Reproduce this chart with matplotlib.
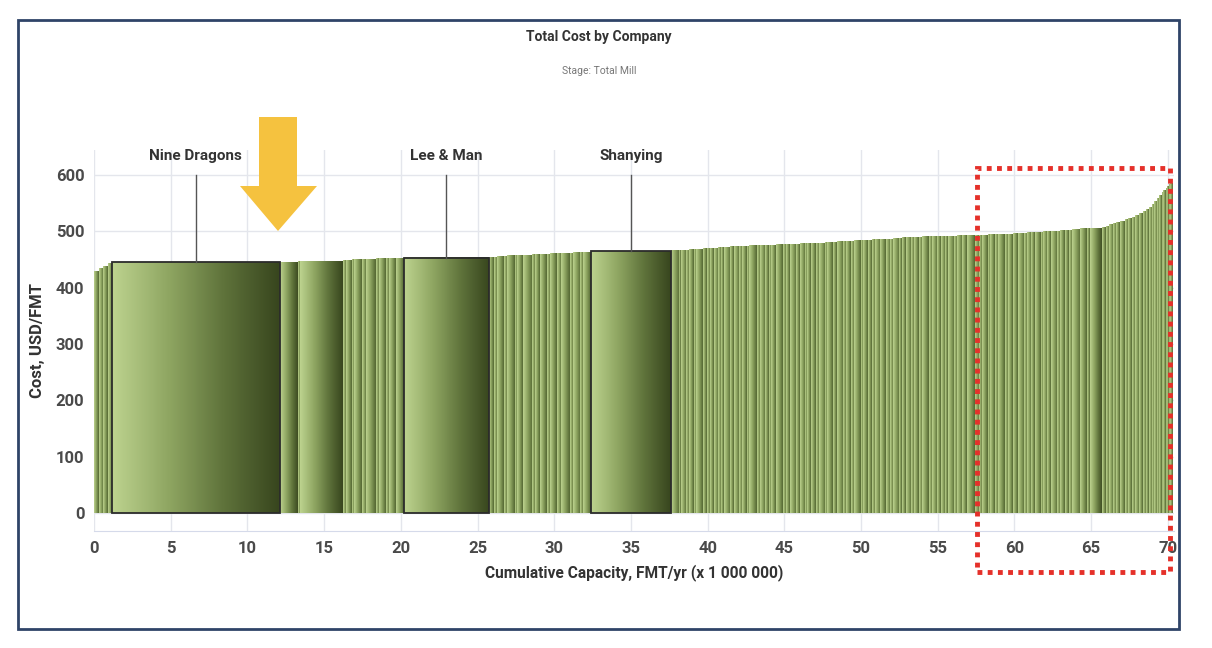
import numpy as np
import matplotlib
matplotlib.use("Agg")
import matplotlib.pyplot as plt
from matplotlib.colors import LinearSegmentedColormap
from matplotlib.patches import Rectangle, Polygon

plt.rcParams["font.family"] = ["Roboto", "DejaVu Sans"]

# capacity (million FMT/yr) and cost (USD/FMT) of each mill, in merit order
w_start = [0.3, 0.3, 0.3, 0.27]
c_start = [428, 433, 438, 442]
w_nine, c_nine = 10.93, 445
w_b = [1.2, 0.15, 2.8, 0.2, 0.35, 0.15, 0.5, 0.3, 0.6, 0.25, 0.45, 0.2, 0.45, 0.5]
c_b = [445, 446, 447, 448, 448, 449, 449, 450, 450, 451, 451, 452, 452, 452]
w_lee, c_lee = 5.55, 453
w_c = [0.3, 0.2, 0.45, 0.25, 0.5, 0.15, 0.35, 0.6, 0.2, 0.3, 0.45, 0.25, 0.4, 0.3,
       0.55, 0.2, 0.5, 0.2, 0.5]
c_c = [454, 454, 455, 455, 456, 456, 457, 457, 458, 458, 459, 459, 460, 460,
       461, 461, 462, 462, 463]
w_shan, c_shan = 5.2, 464
w_d = [0.55, 0.1, 0.35, 0.2, 0.3, 0.15, 0.45, 0.25, 0.2, 0.25,
       0.3, 0.2, 0.15, 0.4, 0.25, 0.35, 0.2, 0.3, 0.15, 0.5,
       0.2, 0.35, 0.25, 0.15, 0.3, 0.45, 0.2, 0.25, 0.4, 0.25,
       0.35, 0.15, 0.25, 0.3, 0.2, 0.4, 0.15, 0.35, 0.25, 0.4,
       0.25, 0.3, 0.2, 0.45, 0.15, 0.3, 0.25, 0.2, 0.35, 0.35,
       0.3, 0.2, 0.4, 0.15, 0.25, 0.35, 0.2, 0.3, 0.25, 0.4,
       0.2, 0.35, 0.25, 0.3, 0.15, 0.4, 0.2, 0.35, 0.3, 0.5]
c_d = [465, 465, 466, 466, 467, 467, 468, 469, 469, 470,
       470, 471, 471, 471, 472, 472, 473, 473, 473, 474,
       474, 474, 475, 475, 475, 476, 476, 476, 477, 477,
       478, 478, 478, 479, 479, 479, 480, 480, 480, 481,
       481, 482, 482, 483, 483, 484, 484, 485, 485, 486,
       486, 486, 487, 487, 488, 488, 488, 489, 489, 490,
       490, 490, 490, 491, 491, 491, 491, 492, 492, 492]
w_e = [0.3, 0.2, 0.35, 0.15, 0.3, 0.25, 0.45, 0.2, 0.3, 0.3,
       0.4, 0.2, 0.3, 0.25, 0.35, 0.15, 0.3, 0.2, 0.4, 0.25,
       0.3, 0.25, 0.2, 0.55, 0.45, 0.15, 0.8]
c_e = [493, 493, 493, 494, 494, 494, 495, 495, 495, 496,
       496, 496, 497, 497, 498, 498, 499, 499, 500, 500,
       501, 501, 502, 503, 504, 504, 505]
w_tail = [0.25, 0.2, 0.3, 0.2, 0.25, 0.3, 0.2, 0.25, 0.2, 0.3, 0.2, 0.25,
          0.15, 0.2, 0.15, 0.2, 0.15, 0.15, 0.1, 0.15, 0.1, 0.1, 0.1, 0.15]
c_tail = [507, 509, 511, 513, 515, 518, 520, 522, 525, 528, 531, 535,
          538, 542, 547, 553, 558, 563, 568, 572, 576, 579, 582, 585]

widths = w_start + [w_nine] + w_b + [w_lee] + w_c + [w_shan] + w_d + w_e + w_tail
costs = c_start + [c_nine] + c_b + [c_lee] + c_c + [c_shan] + c_d + c_e + c_tail
named = {len(w_start): "Nine Dragons",
         len(w_start) + 1 + len(w_b): "Lee & Man",
         len(w_start) + 2 + len(w_b) + len(w_c): "Shanying"}

W, H = 1212, 648
fig = plt.figure(figsize=(W / 100, H / 100), dpi=100)
ax = fig.add_axes([94 / W, 1 - 531 / H, (1174 - 94) / W, (531 - 150) / H])

cmap = LinearSegmentedColormap.from_list("grn", ["#bcd28e", "#8fa662", "#5f733b", "#38461e"])
grad = np.linspace(0, 1, 64).reshape(1, -1)
grad_thin = np.linspace(0, 0.75, 64).reshape(1, -1)

lefts = np.concatenate([[0], np.cumsum(widths)[:-1]])
for i, (x0, wd, c) in enumerate(zip(lefts, widths, costs)):
    g = grad if wd > 0.7 else grad_thin
    ax.imshow(g, extent=(x0, x0 + wd, 0, c), aspect="auto", cmap=cmap, vmin=0, vmax=1,
              interpolation="bilinear", zorder=2)
    if i in named:
        ax.add_patch(Rectangle((x0, 0), wd, c, fill=False, ec="#2b2b2b", lw=1.3, zorder=3))
        xc = x0 + wd / 2
        ax.plot([xc, xc], [c, 600], color="#555555", lw=1, zorder=3, clip_on=False)
        ax.text(xc, 634, named[i], ha="center", va="center", fontsize=11,
                fontweight="bold", color="#333333", clip_on=False)

ax.set_xlim(0, 70.4)
ax.set_ylim(-32, 644)
ax.set_xticks(range(0, 71, 5))
ax.set_yticks(range(0, 601, 100))
ax.grid(color="#e4e6ec", lw=1, zorder=0)
ax.set_axisbelow(True)
for s in ["top", "right", "left"]:
    ax.spines[s].set_visible(False)
ax.spines["bottom"].set_color("#d5daea")
ax.tick_params(length=0, labelsize=12, labelcolor="#4a4a4a", pad=7)
for lab in ax.get_xticklabels() + ax.get_yticklabels():
    lab.set_fontweight("bold")
ax.set_xlabel("Cumulative Capacity, FMT/yr (x 1 000 000)", fontsize=11.2,
              fontweight="bold", color="#333333", labelpad=6)
ax.set_ylabel("Cost, USD/FMT", fontsize=12, fontweight="bold", color="#333333", labelpad=8)

def fp(x, y):
    return (x / W, 1 - y / H)

fig.text(*fp(599, 37), "Total Cost by Company", ha="center", va="center",
         fontsize=10, fontweight="bold", color="#333333")
fig.text(*fp(599, 71), "Stage: Total Mill", ha="center", va="center",
         fontsize=7.5, color="#777777")

# yellow arrow
arrow = [fp(259, 117), fp(297, 117), fp(297, 186), fp(317, 186), fp(278, 231),
         fp(240, 186), fp(259, 186)]
fig.add_artist(Polygon(arrow, closed=True, fc="#f5c23f", ec="none",
                       transform=fig.transFigure, zorder=5))

# red dotted box
x0, y0 = fp(977, 572)
x1, y1 = fp(1170, 168)
fig.add_artist(Rectangle((x0, y0), x1 - x0, y1 - y0, fill=False, ec="#e5302a", lw=3.5,
                         ls=(0, (1, 1.1)), transform=fig.transFigure, zorder=5))

# outer frame
x0, y0 = fp(18, 629)
x1, y1 = fp(1179, 20)
fig.add_artist(Rectangle((x0, y0), x1 - x0, y1 - y0, fill=False, ec="#2f4468", lw=2,
                         transform=fig.transFigure, zorder=6))

fig.savefig("out.png", dpi=100)
